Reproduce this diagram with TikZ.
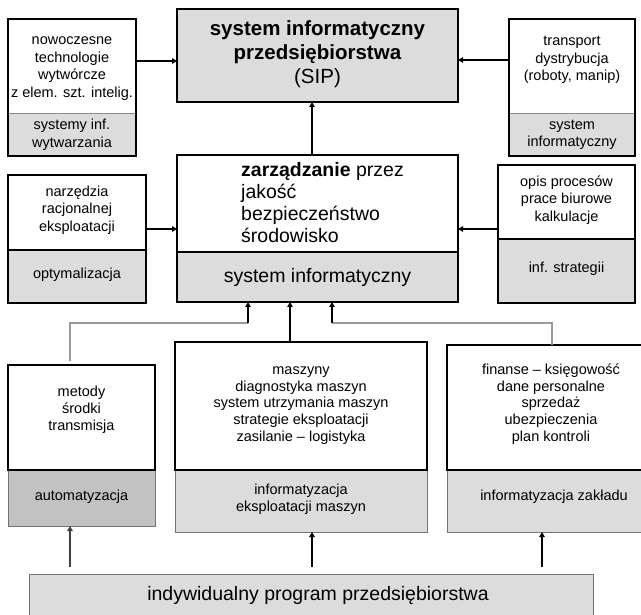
\documentclass[tikz,border=0pt]{standalone}
\usepackage{fontspec}
\setmainfont{Liberation Sans}
\usetikzlibrary{arrows.meta,calc}
\definecolor{shadelight}{HTML}{DCDCDC}
\definecolor{shadedark}{HTML}{C2C2C2}
\definecolor{wire}{HTML}{9A9A9A}

\begin{document}
\begin{tikzpicture}[x=1pt,y=-1pt,
  part/.style={rectangle, inner sep=0pt, outer sep=0pt},
  frame/.style={part, draw=black, line width=2.6pt},
  shade/.style={part, fill=shadelight},
  thinshade/.style={part, fill=shadelight, draw=black!55, line width=0.9pt},
  thindiv/.style={draw=black!45, line width=0.9pt},
  thickdiv/.style={draw=black, line width=2.6pt},
  small/.style={font=\fontsize{14.5}{17.5}\selectfont, align=center, inner sep=0pt},
  smallb/.style={font=\fontsize{14.5}{16.8}\selectfont, align=center, inner sep=0pt},
  large/.style={font=\fontsize{19.5}{22}\selectfont, inner sep=0pt},
  arr/.style={line width=1.5pt, -{Triangle[length=5pt,width=5.5pt]}},
  wireline/.style={line width=1.5pt, draw=wire},
]
\clip (0,0) rectangle (641,615);
\fill[white] (0,0) rectangle (641,615);

% --- top row -------------------------------------------------------
\node[shade, minimum width=128, minimum height=43] (tlg) at (72,134.5) {};
\draw[thindiv] (tlg.north west) -- (tlg.north east);
\node[frame, minimum width=128, minimum height=137] (tl) at (72,87.5) {};
\node[small] (tlt) at (72,68.5) {nowoczesne\\technologie\\wytwórcze\\z elem. szt. intelig.};
\node[small] (tlgt) at (72,135) {systemy inf.\\wytwarzania};

\node[frame, fill=shadelight, minimum width=281, minimum height=93] (sip) at (317.5,55.5) {};
\node[inner sep=0pt, align=center, font=\fontsize{20.5}{24}\selectfont] (sipt) at (317.5,54)
  {\textbf{system informatyczny}\\\textbf{przedsiębiorstwa}\\(SIP)};

\node[shade, minimum width=126, minimum height=43] (trg) at (572,134.5) {};
\draw[thindiv] (trg.north west) -- (trg.north east);
\node[frame, minimum width=126, minimum height=137] (tr) at (572,87.5) {};
\node[small] (trt) at (572,60) {transport\\dystrybucja\\(roboty, manip)};
\node[small] (trgt) at (572,135) {system\\informatyczny};

% --- middle row ----------------------------------------------------
\node[shade, minimum width=281, minimum height=50] (ctrg) at (317.5,277) {};
\draw[thickdiv] (ctrg.north west) -- (ctrg.north east);
\node[frame, minimum width=281, minimum height=147] (ctr) at (317.5,228.5) {};
\node[large, align=left, anchor=west] (ctrt) at (241,203)
  {\textbf{zarządzanie} przez\\jakość\\bezpieczeństwo\\środowisko};
\node[large] (ctrgt) at (317.5,277) {system informatyczny};

\node[shade, minimum width=138, minimum height=53] (mlg) at (77,276.5) {};
\draw[thickdiv] (mlg.north west) -- (mlg.north east);
\node[frame, minimum width=138, minimum height=128] (ml) at (77,239) {};
\node[small] (mlt) at (77,210) {narzędzia\\racjonalnej\\eksploatacji};
\node[small] (mlgt) at (77,275) {optymalizacja};

\node[shade, minimum width=137, minimum height=64] (mrg) at (566.5,271) {};
\draw[thickdiv] (mrg.north west) -- (mrg.north east);
\node[frame, minimum width=137, minimum height=138] (mr) at (566.5,234) {};
\node[small] (mrt) at (566.5,200) {opis procesów\\prace biurowe\\kalkulacje};
\node[small] (mrgt) at (566.5,269) {inf. strategii};

% --- bottom row ----------------------------------------------------
\node[thinshade, fill=shadedark, minimum width=147, minimum height=56] (blg) at (81.5,498) {};
\node[frame, fill=white, minimum width=147, minimum height=105] (bl) at (81.5,417.5) {};
\node[smallb] (blt) at (81.5,409.5) {metody\\środki\\transmisja};
\node[smallb] (blgt) at (81.5,497) {automatyzacja};

\node[thinshade, minimum width=252, minimum height=62] (bmg) at (301,501) {};
\node[frame, fill=white, minimum width=252, minimum height=128] (bm) at (301,406) {};
\node[smallb] (bmt) at (301,405.5) {maszyny\\diagnostyka maszyn\\system utrzymania maszyn\\strategie eksploatacji\\zasilanie – logistyka};
\node[smallb] (bmgt) at (301,499) {informatyzacja\\eksploatacji maszyn};

\node[thinshade, minimum width=209, minimum height=62] (brg) at (551.5,501) {};
\node[frame, fill=white, minimum width=209, minimum height=125] (br) at (551.5,407.5) {};
\node[smallb] (brt) at (551,404) {finanse – księgowość\\dane personalne\\sprzedaż\\ubezpieczenia\\plan kontroli};
\node[smallb] (brgt) at (554,497) {informatyzacja zakładu};

\node[thinshade, minimum width=564, minimum height=66] (prog) at (311,607) {};
\node[large] (progt) at (318,595) {indywidualny program przedsiębiorstwa};

% --- connectors ----------------------------------------------------
\draw[arr] (tl.east |- 0,61) -- (sip.west |- 0,61);
\draw[arr] (tr.west |- 0,60) -- (sip.east |- 0,60);
\draw[arr] (ctr.north -| 312,0) -- (sip.south -| 312,0);
\draw[arr] (ml.east |- 0,229) -- (ctr.west |- 0,229);
\draw[arr] (mr.west |- 0,229) -- (ctr.east |- 0,229);

\coordinate (jl) at (248,323);
\coordinate (jr) at (332,323);
\draw[wireline] ($(bl.north -| 70,0)+(0,-4)$) |- (jl);
\draw[arr] (jl) -- (ctr.south -| jl);
\draw[arr] (bm.north -| 290,0) -- (ctr.south -| 290,0);
\draw[wireline] (br.north -| 552,0) |- (jr);
\draw[arr] (jr) -- (ctr.south -| jr);

\draw[arr, draw=black!75, fill=black!75] ($(prog.north -| 70,0)+(0,-7)$) -- (blg.south -| 70,0);
\draw[arr] ($(prog.north -| 312,0)+(0,-7)$) -- (bmg.south -| 312,0);
\draw[arr] ($(prog.north -| 542,0)+(0,-7)$) -- (brg.south -| 542,0);
\end{tikzpicture}
\end{document}
